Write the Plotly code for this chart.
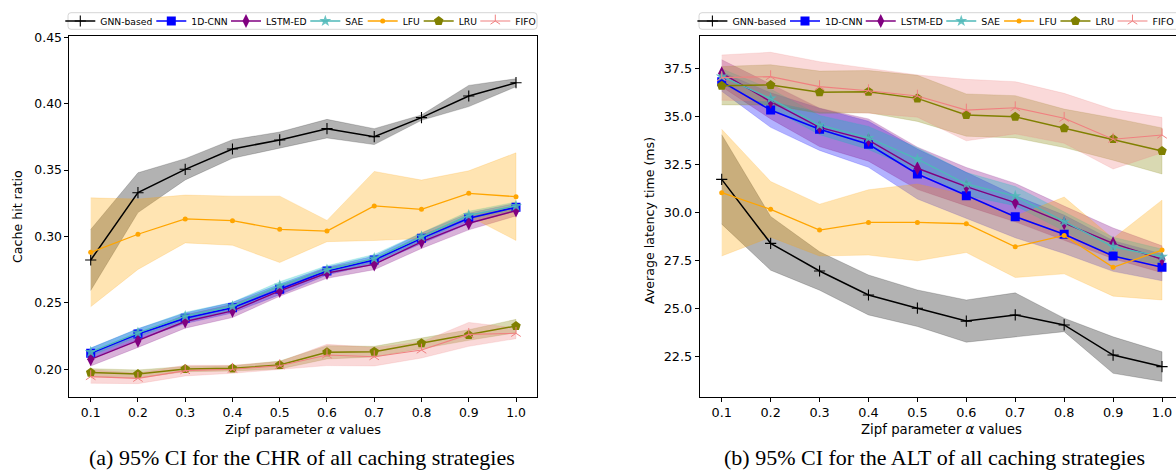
import numpy as np
import plotly.graph_objects as go

# ---------------- data ----------------
alpha = [0.1, 0.2, 0.3, 0.4, 0.5, 0.6, 0.7, 0.8, 0.9, 1.0]
alpha_labels = ["0.1", "0.2", "0.3", "0.4", "0.5", "0.6", "0.7", "0.8", "0.9", "1.0"]
series = ["GNN-based", "1D-CNN", "LSTM-ED", "SAE", "LFU", "LRU", "FIFO"]

# Cache hit ratio (mean, 95% CI half-width)
chr_gnn = [0.2823, 0.3330, 0.3506, 0.3659, 0.3727, 0.3812, 0.3752, 0.3895, 0.4058, 0.4158]
chr_gnn_ci = [0.023, 0.015, 0.008, 0.007, 0.006, 0.007, 0.006, 0.002, 0.008, 0.003]
chr_cnn = [0.2120, 0.2266, 0.2384, 0.2464, 0.2602, 0.2740, 0.2823, 0.2986, 0.3137, 0.3220]
chr_cnn_ci = [0.004, 0.004, 0.004, 0.004, 0.004, 0.003, 0.003, 0.004, 0.004, 0.003]
chr_lstm = [0.2075, 0.2215, 0.2360, 0.2440, 0.2590, 0.2725, 0.2790, 0.2960, 0.3100, 0.3195]
chr_lstm_ci = [0.005, 0.005, 0.005, 0.005, 0.004, 0.004, 0.004, 0.005, 0.005, 0.004]
chr_sae = [0.2130, 0.2275, 0.2400, 0.2475, 0.2630, 0.2750, 0.2835, 0.3000, 0.3160, 0.3230]
chr_sae_ci = [0.003, 0.003, 0.003, 0.003, 0.003, 0.003, 0.003, 0.003, 0.003, 0.003]
chr_lfu = [0.2881, 0.3017, 0.3132, 0.3119, 0.3054, 0.3041, 0.3230, 0.3205, 0.3325, 0.3300]
chr_lfu_ci = [0.041, 0.0265, 0.018, 0.0185, 0.025, 0.008, 0.026, 0.022, 0.017, 0.033]
chr_lru = [0.1975, 0.1965, 0.2002, 0.2007, 0.2032, 0.2128, 0.2133, 0.2196, 0.2258, 0.2326]
chr_lru_ci = [0.003, 0.003, 0.002, 0.002, 0.003, 0.005, 0.004, 0.004, 0.004, 0.005]
chr_fifo = [0.1945, 0.1932, 0.1990, 0.2000, 0.2027, 0.2108, 0.2095, 0.2145, 0.2263, 0.2271]
chr_fifo_ci = [0.005, 0.004, 0.004, 0.003, 0.003, 0.008, 0.007, 0.006, 0.009, 0.004]

# Average latency time in ms (mean, 95% CI half-width)
alt_gnn = [31.74, 28.41, 26.97, 25.72, 25.03, 24.36, 24.68, 24.16, 22.59, 21.99]
alt_gnn_ci = [2.33, 1.40, 1.00, 1.04, 0.95, 1.10, 1.15, 0.35, 0.95, 0.77]
alt_cnn = [36.83, 35.35, 34.35, 33.57, 32.02, 30.89, 29.80, 28.88, 27.75, 27.16]
alt_cnn_ci = [0.5, 0.9, 1.1, 1.2, 1.3, 1.2, 1.1, 1.0, 0.8, 0.7]
alt_lstm = [37.27, 35.79, 34.45, 33.79, 32.32, 31.36, 30.53, 29.45, 28.41, 27.58]
alt_lstm_ci = [0.7, 0.9, 1.0, 1.1, 1.1, 1.0, 1.0, 0.9, 0.8, 0.7]
alt_sae = [37.10, 35.95, 34.57, 33.90, 32.79, 31.50, 30.87, 29.54, 28.23, 27.71]
alt_sae_ci = [0.4, 0.5, 0.5, 0.6, 0.6, 0.6, 0.5, 0.5, 0.5, 0.4]
alt_lfu = [31.05, 30.18, 29.10, 29.50, 29.50, 29.43, 28.23, 28.82, 27.16, 28.06]
alt_lfu_ci = [3.3, 1.45, 1.35, 1.7, 2.0, 1.5, 1.6, 2.0, 1.5, 2.6]
alt_lru = [36.62, 36.66, 36.28, 36.31, 35.96, 35.09, 35.00, 34.40, 33.84, 33.22]
alt_lru_ci = [1.0, 1.05, 1.1, 1.1, 1.2, 1.1, 1.1, 1.0, 1.1, 1.2]
alt_fifo = [37.04, 37.09, 36.57, 36.36, 36.08, 35.35, 35.47, 34.92, 33.83, 34.05]
alt_fifo_ci = [1.18, 1.27, 1.30, 1.17, 1.10, 1.60, 1.36, 1.30, 1.55, 0.92]

chr_tick_vals = [0.20, 0.25, 0.30, 0.35, 0.40, 0.45]
chr_tick_text = ["0.20", "0.25", "0.30", "0.35", "0.40", "0.45"]
alt_tick_vals = [22.5, 25.0, 27.5, 30.0, 32.5, 35.0, 37.5]
alt_tick_text = ["22.5", "25.0", "27.5", "30.0", "32.5", "35.0", "37.5"]

# ---------------- styles ----------------
W, H = 1176, 471
styles = {
    "GNN-based": dict(color="#000000", rgb=(0, 0, 0), symbol="cross-thin", size=8, lw=1.5, mlw=1.1),
    "1D-CNN": dict(color="#0000ff", rgb=(0, 0, 255), symbol="square", size=9, lw=1.6, mlw=0),
    "LSTM-ED": dict(color="#800080", rgb=(128, 0, 128), symbol="diamond-tall", size=10, lw=1.4, mlw=0),
    "SAE": dict(color="#4fb8b8", rgb=(0, 191, 191), symbol="star", size=9, lw=1.4, mlw=0),
    "LFU": dict(color="#ffa500", rgb=(255, 165, 0), symbol="circle", size=5, lw=1.3, mlw=0),
    "LRU": dict(color="#808000", rgb=(128, 128, 0), symbol="pentagon", size=10, lw=1.5, mlw=0),
    "FIFO": dict(color="#f08080", rgb=(240, 128, 128), symbol="y-up-open", size=8, lw=1.1, mlw=1.0),
}

chr_data = {
    "GNN-based": (chr_gnn, chr_gnn_ci), "1D-CNN": (chr_cnn, chr_cnn_ci),
    "LSTM-ED": (chr_lstm, chr_lstm_ci), "SAE": (chr_sae, chr_sae_ci),
    "LFU": (chr_lfu, chr_lfu_ci), "LRU": (chr_lru, chr_lru_ci), "FIFO": (chr_fifo, chr_fifo_ci),
}
alt_data = {
    "GNN-based": (alt_gnn, alt_gnn_ci), "1D-CNN": (alt_cnn, alt_cnn_ci),
    "LSTM-ED": (alt_lstm, alt_lstm_ci), "SAE": (alt_sae, alt_sae_ci),
    "LFU": (alt_lfu, alt_lfu_ci), "LRU": (alt_lru, alt_lru_ci), "FIFO": (alt_fifo, alt_fifo_ci),
}

# legend item widths (px) to mimic matplotlib's compact legend spacing
leg_w_left = [46, 29.7, 34.3, 12.4, 11, 11.6, 22]
leg_w_right = [w * 1.035 for w in leg_w_left]

fig = go.Figure()


def add_panel(data, xa, ya, legend_name, leg_widths):
    x = np.array(alpha)
    # bands first
    for name in series:
        m, ci = data[name]
        m = np.array(m)
        ci = np.array(ci)
        r, g, b = styles[name]["rgb"]
        fig.add_trace(go.Scatter(
            x=np.concatenate([x, x[::-1]]),
            y=np.concatenate([m + ci, (m - ci)[::-1]]),
            fill="toself", mode="lines",
            fillcolor=f"rgba({r},{g},{b},0.3)",
            line=dict(width=0.7, color=f"rgba({r},{g},{b},0.25)"),
            hoverinfo="skip", showlegend=False, xaxis=xa, yaxis=ya,
        ))
    for i, name in enumerate(series):
        m, ci = data[name]
        st = styles[name]
        marker = dict(symbol=st["symbol"], size=st["size"], color=st["color"],
                      line=dict(width=st["mlw"], color=st["color"]))
        if name == "SAE":
            marker["opacity"] = 0.85
        fig.add_trace(go.Scatter(
            x=alpha, y=m, mode="lines+markers", name=name,
            line=dict(color=st["color"], width=st["lw"]),
            marker=marker, xaxis=xa, yaxis=ya, legend=legend_name,
            legendwidth=leg_widths[i],
        ))


add_panel(chr_data, "x", "y", "legend", leg_w_left)
add_panel(alt_data, "x2", "y2", "legend2", leg_w_right)

# ---------------- layout ----------------
y_dom = [1 - 396.7 / H, 1 - 36 / H]
axis_common = dict(showline=True, linecolor="black", linewidth=1, ticks="outside",
                   ticklen=4, tickwidth=1, tickcolor="black", showgrid=False, zeroline=False)

font_family = "DejaVu Sans"

fig.update_layout(
    width=W, height=H,
    margin=dict(l=0, r=0, t=0, b=0, autoexpand=False),
    paper_bgcolor="white", plot_bgcolor="white",
    font=dict(family=font_family, color="black"),
    xaxis=dict(domain=[69.43 / W, 537.27 / W], range=[0.055, 1.045], tickvals=alpha,
               ticktext=alpha_labels, mirror=True, anchor="y",
               tickfont=dict(size=12.4, family=font_family, color="black"), **axis_common),
    yaxis=dict(domain=y_dom, range=[0.17937, 0.45098], tickvals=chr_tick_vals,
               ticktext=chr_tick_text, mirror=True, anchor="x",
               tickfont=dict(size=12.4, family=font_family, color="black"), **axis_common),
    xaxis2=dict(domain=[699.7 / W, 1.0], range=[0.055, 1.0286], tickvals=alpha,
                ticktext=alpha_labels, mirror=True, anchor="y2",
                tickfont=dict(size=12.8, family=font_family, color="black"), **axis_common),
    yaxis2=dict(domain=y_dom, range=[20.422, 39.208], tickvals=alt_tick_vals,
                ticktext=alt_tick_text, mirror=False, anchor="x2",
                tickfont=dict(size=12.8, family=font_family, color="black"), **axis_common),
    legend=dict(orientation="h", x=60.3 / W, y=1 - 6.5 / H, xanchor="left", yanchor="top",
                bgcolor="rgba(0,0,0,0)", borderwidth=0, itemwidth=30, tracegroupgap=0,
                font=dict(family=font_family, size=9.2, color="black")),
    legend2=dict(orientation="h", x=(730.4 - 38) / W, y=1 - 6.5 / H, xanchor="left", yanchor="top",
                 bgcolor="rgba(0,0,0,0)", borderwidth=0, itemwidth=30, tracegroupgap=0,
                 font=dict(family=font_family, size=9.5, color="black")),
)


def round_rect(x0, y0, x1, y1, r=3):
    # pixel coords (y down) -> paper coords path
    def px(x):
        return x / W

    def py(y):
        return 1 - y / H
    return (f"M{px(x0 + r)},{py(y0)} L{px(x1 - r)},{py(y0)} Q{px(x1)},{py(y0)} {px(x1)},{py(y0 + r)} "
            f"L{px(x1)},{py(y1 - r)} Q{px(x1)},{py(y1)} {px(x1 - r)},{py(y1)} "
            f"L{px(x0 + r)},{py(y1)} Q{px(x0)},{py(y1)} {px(x0)},{py(y1 - r)} "
            f"L{px(x0)},{py(y0 + r)} Q{px(x0)},{py(y0)} {px(x0 + r)},{py(y0)} Z")


for (x0, x1) in [(68, 537), (699, 1184)]:
    fig.add_shape(type="path", path=round_rect(x0, 12.7, x1, 29.3), xref="paper", yref="paper",
                  line=dict(color="rgb(214,214,214)", width=1), fillcolor="rgba(255,255,255,0.8)",
                  layer="above")

ann = [
    dict(text="Cache hit ratio", x=17 / W, y=1 - 217 / H, textangle=-90, size=12.6, family=font_family),
    dict(text="Average latency time (ms)", x=649 / W, y=1 - 221 / H, textangle=-90, size=12.6, family=font_family),
    dict(text="Zipf parameter <i>α</i> values", x=303 / W, y=1 - 429 / H, textangle=0, size=12.9, family=font_family),
    dict(text="Zipf parameter <i>α</i> values", x=942 / W, y=1 - 429 / H, textangle=0, size=13.3, family=font_family),
    dict(text="(a) 95% CI for the CHR of all caching strategies", x=302 / W, y=1 - 457 / H, textangle=0,
         size=22, family="Liberation Serif"),
    dict(text="(b) 95% CI for the ALT of all caching strategies", x=934 / W, y=1 - 457 / H, textangle=0,
         size=22, family="Liberation Serif"),
]
for a in ann:
    fig.add_annotation(text=a["text"], x=a["x"], y=a["y"], xref="paper", yref="paper",
                       showarrow=False, textangle=a["textangle"], xanchor="center", yanchor="middle",
                       font=dict(size=a["size"], family=a["family"], color="black"))

fig.write_html("out.html")
